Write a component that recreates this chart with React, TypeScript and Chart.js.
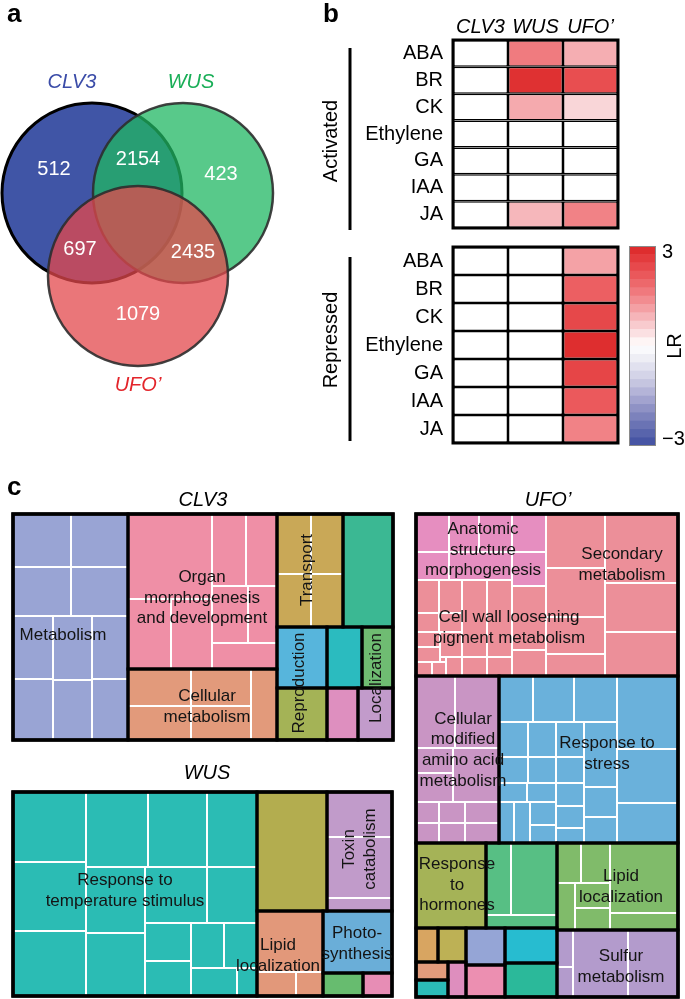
import React, { useEffect, useRef } from 'react';
import { Chart, registerables } from 'chart.js';

Chart.register(...registerables);

const FONT = '"Liberation Sans", Arial, Helvetica, sans-serif';

// ---------------- Panel a: Venn diagram data ----------------
const vennSets = ['CLV3', 'WUS', 'UFO\u2019'];
const vennRegions = ['CLV3 only', 'WUS only', 'UFO\u2019 only', 'CLV3 \u2229 WUS', 'CLV3 \u2229 UFO\u2019', 'WUS \u2229 UFO\u2019'];
const vennCounts = [512, 423, 1079, 2154, 697, 2435];

// ---------------- Panel b: heatmap data ----------------
const hormones = ['ABA', 'BR', 'CK', 'Ethylene', 'GA', 'IAA', 'JA'];
const genotypes = ['CLV3', 'WUS', 'UFO\u2019'];
const activatedCLV3 = [0, 0, 0, 0, 0, 0, 0];
const activatedWUS = [1.6, 2.8, 1.0, 0, 0, 0, 0.85];
const activatedUFO = [0.95, 2.3, 0.5, 0, 0, 0, 1.5];
const repressedCLV3 = [0, 0, 0, 0, 0, 0, 0];
const repressedWUS = [0, 0, 0, 0, 0, 0, 0];
const repressedUFO = [1.1, 2.0, 2.4, 2.85, 2.45, 2.1, 1.5];
const lrTickLabels = ['3', '\u22123'];
const lrLevels = [-3, -2.75, -2.5, -2.25, -2, -1.75, -1.5, -1.25, -1, -0.75, -0.5, -0.25,
  0, 0.25, 0.5, 0.75, 1, 1.25, 1.5, 1.75, 2, 2.25, 2.5, 2.75];

// ---------------- Panel c: treemap terms ----------------
const clv3Terms = ['Metabolism', 'Organ morphogenesis and development', 'Cellular metabolism', 'Transport', 'Reproduction', 'Localization'];
const wusTerms = ['Response to temperature stimulus', 'Lipid localization', 'Photo-synthesis', 'Toxin catabolism'];
const ufoTerms = ['Anatomic structure morphogenesis', 'Secondary metabolism', 'Cell wall loosening pigment metabolism',
  'Cellular modified amino acid metabolism', 'Response to stress', 'Response to hormones', 'Lipid localization', 'Sulfur metabolism'];

// ================= layout & style (not data) =================
const vennCenters = [{ x: 92, y: 193 }, { x: 183, y: 193 }, { x: 138, y: 276 }];
const vennRadius = 90;
const vennFill = ['rgba(0,28,136,0.75)', 'rgba(32,183,99,0.75)', 'rgba(227,72,76,0.75)'];
const vennStroke = ['rgba(0,0,0,1)', 'rgba(45,45,45,0.9)', 'rgba(45,45,45,0.9)'];
const vennSetColors = ['#3B4CA8', '#19AE57', '#E3252B'];
const vennCountPos = [[54, 169], [221, 174], [138, 314], [138, 159], [80, 249], [193, 252]];
const vennNamePos = [[72, 82], [191, 82], [138, 385]];

const redStops: [number, number[]][] = [[0, [255, 255, 255]], [0.5, [249, 214, 216]], [1, [245, 170, 174]], [1.5, [241, 130, 134]], [2, [236, 95, 98]], [2.5, [229, 66, 68]], [3, [219, 38, 38]]];
const blueStops: [number, number[]][] = [[0, [255, 255, 255]], [0.5, [232, 232, 242]], [1, [205, 205, 228]], [1.5, [172, 172, 212]], [2, [133, 137, 192]], [2.5, [97, 107, 176]], [3, [62, 78, 160]]];

function lrColor(v: number): string {
  const stops = v >= 0 ? redStops : blueStops;
  const a = Math.min(3, Math.abs(v));
  for (let i = 1; i < stops.length; i++) {
    if (a <= stops[i][0]) {
      const [a0, c0] = stops[i - 1];
      const [a1, c1] = stops[i];
      const t = (a - a0) / (a1 - a0);
      const c = c0.map((x, k) => Math.round(x + (c1[k] - x) * t));
      return `rgb(${c[0]},${c[1]},${c[2]})`;
    }
  }
  const c = stops[stops.length - 1][1];
  return `rgb(${c[0]},${c[1]},${c[2]})`;
}

const palette: Record<string, string> = {
  metab: '#99A4D4', organ: '#EF8FA6', cellmet: '#E29A7B', transport: '#C9A857', teal1: '#3BB893',
  repro: '#57B5DC', teal2: '#2BBBBF', locGreen: '#6FBC72', olive: '#A4B356', pink: '#DE8FBF', lav: '#C29BCB',
  wTeal: '#2BBCB4', wOlive: '#B3AD4F', wLav: '#C19BCA', wSalmon: '#E2987A', wBlue: '#6AAED8', wGreen: '#67BC6F', wPink: '#E78DB5',
  uAnat: '#E68EC0', uSalmon: '#EC8F99', uCell: '#C995C4', uStress: '#6AB1DB', uHorm: '#A5B357', uGreen: '#57BF84',
  uLipid: '#80BB6A', uSulfur: '#B39BCC', uOrange: '#D8A561', uOlive: '#BDB155', uLavBlue: '#95A5D6', uCyan: '#27BCD0',
  uSalmon2: '#E29B7C', uTeal: '#2BBCB8', uPink: '#DE8EBE', uPink2: '#EC8FB1', uTeal2: '#2BB99A',
};

type R = [number, number, number, number, string];
const tag = (key: string, rs: number[][]): R[] => rs.map((r) => [r[0], r[1], r[2], r[3], key] as R);

const clv3Map = {
  title: 'CLV3', titleAt: [203, 500],
  blocks: [
    [13, 514, 128, 740, 'metab'], [128, 514, 277, 669, 'organ'], [128, 669, 277, 740, 'cellmet'],
    [277, 514, 343, 627, 'transport'], [343, 514, 393, 627, 'teal1'], [277, 627, 327, 688, 'repro'],
    [327, 627, 362, 688, 'teal2'], [362, 627, 393, 688, 'locGreen'], [277, 688, 327, 740, 'olive'],
    [327, 688, 358, 740, 'pink'], [358, 688, 393, 740, 'lav'],
  ] as R[],
  cells: [
    ...tag('metab', [[13, 514, 71, 567], [71, 514, 128, 567], [13, 567, 71, 616], [71, 567, 128, 616], [13, 616, 53, 679], [53, 616, 92, 680], [92, 616, 128, 679], [13, 679, 53, 740], [53, 680, 92, 740], [92, 679, 128, 740]]),
    ...tag('organ', [[128, 514, 212, 599], [128, 599, 171, 669], [171, 599, 212, 669], [212, 514, 246, 586], [246, 514, 277, 586], [212, 586, 248, 643], [248, 586, 277, 643], [212, 643, 277, 669]]),
    ...tag('cellmet', [[128, 669, 191, 706], [191, 669, 251, 706], [128, 706, 191, 740], [191, 706, 251, 740], [251, 669, 277, 740]]),
    ...tag('transport', [[277, 514, 311, 574], [311, 514, 343, 574], [277, 574, 311, 627], [311, 574, 343, 627]]),
  ],
  labels: [
    { lines: ['Metabolism'], at: [63, 635] },
    { lines: ['Organ', 'morphogenesis', 'and development'], at: [202, 598] },
    { lines: ['Cellular', 'metabolism'], at: [207, 707] },
    { lines: ['Transport'], at: [307, 570], rot: true },
    { lines: ['Reproduction'], at: [299, 683], rot: true },
    { lines: ['Localization'], at: [376, 678], rot: true },
  ],
};

const wusMap = {
  title: 'WUS', titleAt: [207, 773],
  blocks: [
    [13, 792, 257, 996, 'wTeal'], [257, 792, 327, 911, 'wOlive'], [327, 792, 392, 911, 'wLav'],
    [257, 911, 323, 996, 'wSalmon'], [323, 911, 392, 973, 'wBlue'], [323, 973, 363, 996, 'wGreen'], [363, 973, 392, 996, 'wPink'],
  ] as R[],
  cells: [
    ...tag('wTeal', [[13, 792, 86, 862], [13, 862, 86, 931], [13, 931, 86, 996], [86, 792, 148, 867], [148, 792, 207, 867], [207, 792, 257, 867], [86, 867, 145, 933], [86, 933, 145, 996], [145, 867, 207, 923], [207, 867, 257, 923], [145, 923, 191, 961], [145, 961, 191, 996], [191, 923, 224, 968], [224, 923, 257, 968], [191, 968, 237, 996], [237, 968, 257, 996]]),
    ...tag('wLav', [[327, 792, 392, 837], [327, 837, 392, 898], [327, 898, 392, 911]]),
    ...tag('wSalmon', [[257, 911, 323, 972], [257, 972, 296, 996], [296, 972, 323, 996]]),
  ],
  labels: [
    { lines: ['Response to', 'temperature stimulus'], at: [125, 891] },
    { lines: ['Lipid', 'localization'], at: [278, 956] },
    { lines: ['Photo-', 'synthesis'], at: [357, 944] },
    { lines: ['Toxin', 'catabolism'], at: [360, 849], rot: true },
  ],
};

const ufoMap = {
  title: 'UFO\u2019', titleAt: [548, 500],
  blocks: [
    [416, 514, 678, 676, 'uSalmon'], [416, 676, 499, 843, 'uCell'], [499, 676, 678, 843, 'uStress'],
    [416, 843, 486, 928, 'uHorm'], [486, 843, 557, 928, 'uGreen'], [557, 843, 678, 930, 'uLipid'], [557, 930, 678, 997, 'uSulfur'],
    [416, 928, 438, 962, 'uOrange'], [438, 928, 466, 962, 'uOlive'], [466, 928, 505, 965, 'uLavBlue'], [505, 928, 557, 963, 'uCyan'],
    [416, 962, 448, 980, 'uSalmon2'], [416, 980, 448, 997, 'uTeal'], [448, 962, 466, 997, 'uPink'], [466, 965, 505, 997, 'uPink2'], [505, 963, 557, 997, 'uTeal2'],
  ] as R[],
  cells: [
    ...tag('uAnat', [[416, 514, 449, 552], [449, 514, 479, 552], [479, 514, 512, 552], [512, 514, 546, 552], [416, 552, 449, 580], [449, 552, 512, 580], [512, 552, 546, 586]]),
    ...tag('uSalmon', [[416, 580, 439, 613], [439, 580, 462, 613], [416, 613, 439, 632], [439, 613, 462, 632], [416, 632, 440, 647], [440, 632, 462, 657], [416, 647, 440, 662], [416, 662, 432, 676], [432, 662, 446, 676], [446, 657, 462, 676],
      [462, 580, 487, 657], [487, 580, 512, 657], [462, 657, 487, 676], [487, 657, 512, 676], [512, 586, 546, 650], [512, 650, 546, 676],
      [546, 514, 605, 568], [546, 568, 605, 617], [546, 617, 605, 654], [546, 654, 605, 676], [605, 514, 678, 583], [605, 583, 678, 632], [605, 632, 678, 676]]),
    ...tag('uCell', [[416, 676, 455, 748], [455, 676, 499, 748], [416, 748, 453, 773], [416, 773, 453, 802], [453, 748, 499, 802], [416, 802, 439, 823], [439, 802, 465, 823], [465, 802, 499, 823], [416, 823, 439, 843], [439, 823, 465, 843], [465, 823, 499, 843]]),
    ...tag('uStress', [[499, 676, 533, 722], [533, 676, 574, 722], [574, 676, 617, 722], [617, 676, 678, 749], [617, 749, 678, 803], [617, 803, 678, 843],
      [499, 722, 528, 757], [528, 722, 556, 757], [556, 722, 584, 757], [584, 722, 617, 787], [499, 757, 528, 783], [528, 757, 556, 783], [556, 757, 584, 783],
      [499, 783, 527, 802], [527, 783, 556, 802], [556, 783, 584, 806], [584, 787, 617, 817], [499, 802, 514, 843], [514, 802, 530, 843], [530, 802, 556, 825],
      [530, 825, 556, 843], [556, 806, 584, 828], [556, 828, 584, 843], [584, 817, 617, 843]]),
    ...tag('uGreen', [[486, 843, 511, 915], [511, 843, 557, 915], [486, 915, 557, 928]]),
    ...tag('uLipid', [[557, 843, 581, 883], [581, 843, 610, 883], [557, 883, 575, 930], [575, 883, 610, 908], [575, 908, 610, 930], [610, 843, 678, 913], [610, 913, 678, 930]]),
    ...tag('uSulfur', [[557, 930, 573, 967], [557, 967, 573, 997], [573, 930, 628, 997], [628, 930, 678, 997]]),
  ],
  labels: [
    { lines: ['Anatomic', 'structure', 'morphogenesis'], at: [483, 550] },
    { lines: ['Secondary', 'metabolism'], at: [622, 565] },
    { lines: ['Cell wall loosening', 'pigment metabolism'], at: [509, 628] },
    { lines: ['Cellular', 'modified', 'amino acid', 'metabolism'], at: [463, 750] },
    { lines: ['Response to', 'stress'], at: [607, 754] },
    { lines: ['Response', 'to', 'hormones'], at: [457, 885] },
    { lines: ['Lipid', 'localization'], at: [621, 887] },
    { lines: ['Sulfur', 'metabolism'], at: [621, 967] },
  ],
};

const treemaps = [clv3Map, wusMap, ufoMap];

// ================= chart helpers =================
const baseOptions = {
  responsive: false,
  maintainAspectRatio: false,
  animation: false,
  events: [],
  plugins: { legend: { display: false }, tooltip: { enabled: false } },
};

function drawLines(ctx: CanvasRenderingContext2D, lines: string[], x: number, y: number, lh: number, rot?: boolean) {
  ctx.save();
  ctx.translate(x, y);
  if (rot) ctx.rotate(-Math.PI / 2);
  const n = lines.length;
  lines.forEach((t, i) => ctx.fillText(t, 0, (i - (n - 1) / 2) * lh));
  ctx.restore();
}

function ChartBox({ left, top, width, height, make }: { left: number; top: number; width: number; height: number; make: () => any }) {
  const ref = useRef<HTMLCanvasElement>(null);
  useEffect(() => {
    const chart = new Chart(ref.current as HTMLCanvasElement, make());
    return () => chart.destroy();
  }, []);
  return <canvas ref={ref} width={width} height={height} style={{ position: 'absolute', left, top, width, height }} />;
}

// ---------- Venn ----------
const vennPlugin = {
  id: 'vennText',
  afterDatasetsDraw(chart: any) {
    const { ctx, scales: { x, y } } = chart;
    ctx.save();
    ctx.textAlign = 'center';
    ctx.textBaseline = 'middle';
    ctx.font = `20px ${FONT}`;
    ctx.fillStyle = '#fff';
    vennCounts.forEach((n, i) => ctx.fillText(String(n), x.getPixelForValue(vennCountPos[i][0]), y.getPixelForValue(vennCountPos[i][1])));
    ctx.font = `italic 20px ${FONT}`;
    vennSets.forEach((s, i) => {
      ctx.fillStyle = vennSetColors[i];
      ctx.fillText(s, x.getPixelForValue(vennNamePos[i][0]), y.getPixelForValue(vennNamePos[i][1]));
    });
    ctx.font = `bold 26px ${FONT}`;
    ctx.fillStyle = '#000';
    ctx.textAlign = 'left';
    ctx.textBaseline = 'alphabetic';
    ctx.fillText('a', x.getPixelForValue(7), y.getPixelForValue(22));
    ctx.restore();
  },
};

function vennConfig() {
  return {
    type: 'scatter',
    data: {
      datasets: [{
        label: vennRegions.join(', '),
        data: vennCenters.map((c) => ({ x: c.x, y: c.y })),
        showLine: false,
        pointStyle: 'circle',
        pointBackgroundColor: vennFill,
        pointBorderColor: vennStroke,
        pointBorderWidth: [3, 2.5, 2.5],
        pointRadius: (c: any) => {
          const s = c.chart.scales.x;
          const r = Math.abs(s.getPixelForValue(vennRadius) - s.getPixelForValue(0));
          return isFinite(r) && r > 0 ? r : vennRadius;
        },
        clip: false,
      }],
    },
    options: {
      ...baseOptions,
      layout: { padding: 0, autoPadding: false },
      scales: {
        x: { type: 'linear', min: 0, max: 350, display: false },
        y: { type: 'linear', min: 0, max: 400, reverse: true, display: false },
      },
    },
    plugins: [vennPlugin],
  };
}

// ---------- Heatmaps ----------
function heatDecor(label: string, lineTop: number, lineBottom: number, labelY: number, letter: boolean) {
  return {
    id: 'heatDecor',
    afterDraw(chart: any) {
      const { ctx, chartArea: a } = chart;
      ctx.save();
      ctx.strokeStyle = '#000';
      ctx.lineWidth = 3;
      ctx.strokeRect(a.left, a.top, a.right - a.left, a.bottom - a.top);
      const bx = a.left - 103;
      ctx.beginPath();
      ctx.moveTo(bx, lineTop);
      ctx.lineTo(bx, lineBottom);
      ctx.stroke();
      ctx.fillStyle = '#000';
      ctx.font = `20px ${FONT}`;
      ctx.textAlign = 'center';
      ctx.textBaseline = 'middle';
      drawLines(ctx, [label], a.left - 122, labelY, 20, true);
      if (letter) {
        ctx.font = `bold 26px ${FONT}`;
        ctx.textAlign = 'left';
        ctx.textBaseline = 'alphabetic';
        ctx.fillText('b', 13, 22);
      }
      ctx.restore();
    },
  };
}

function heatConfig(cols: number[][], showHeader: boolean, padTop: number, decor: any) {
  return {
    type: 'bar',
    data: {
      labels: genotypes,
      datasets: hormones.map((h, i) => ({
        label: h,
        data: genotypes.map(() => 1),
        backgroundColor: cols.map((col) => lrColor(col[i])),
        borderColor: '#000',
        borderWidth: 1.5,
        borderSkipped: false,
        barPercentage: 1,
        categoryPercentage: 1,
        inflateAmount: 0,
      })),
    },
    options: {
      ...baseOptions,
      layout: { padding: { left: 0, right: 12, top: padTop, bottom: 12 } },
      scales: {
        x: {
          stacked: true, position: 'top', display: showHeader,
          grid: { display: false, drawTicks: false }, border: { display: false },
          ticks: { color: '#000', font: { family: FONT, size: 20, style: 'italic' }, padding: 1, maxRotation: 0, autoSkip: false },
          afterFit: (s: any) => { if (showHeader) s.height = 40; s.paddingLeft = 0; s.paddingRight = 0; },
        },
        y: {
          type: 'linear', stacked: true, min: 0, max: 7, reverse: true,
          grid: { display: false, drawTicks: false }, border: { display: false },
          afterBuildTicks: (s: any) => { s.ticks = hormones.map((_, i) => ({ value: i + 0.5 })); },
          ticks: { color: '#000', font: { family: FONT, size: 20 }, padding: 10, autoSkip: false, callback: (v: number) => hormones[Math.floor(v)] },
          afterFit: (s: any) => { s.width = 143; s.paddingTop = 0; s.paddingBottom = 0; },
        },
      },
    },
    plugins: [decor],
  };
}

// ---------- Colour bar ----------
const colorbarDecor = {
  id: 'cbDecor',
  afterDraw(chart: any) {
    const { ctx, chartArea: a } = chart;
    ctx.save();
    ctx.strokeStyle = '#8a8a8a';
    ctx.lineWidth = 1;
    ctx.strokeRect(a.left + 0.5, a.top + 0.5, a.right - a.left - 1, a.bottom - a.top - 1);
    ctx.fillStyle = '#000';
    ctx.font = `20px ${FONT}`;
    ctx.textAlign = 'center';
    ctx.textBaseline = 'middle';
    drawLines(ctx, ['LR'], a.right + 19, (a.top + a.bottom) / 2, 20, true);
    ctx.restore();
  },
};

function colorbarConfig() {
  return {
    type: 'bar',
    data: {
      labels: ['LR'],
      datasets: lrLevels.map((l) => ({
        label: String(l),
        data: [[l, l + 0.25]],
        backgroundColor: lrColor(l + 0.125),
        borderWidth: 0,
        grouped: false,
        barPercentage: 1,
        categoryPercentage: 1,
        inflateAmount: 0.3,
      })),
    },
    options: {
      ...baseOptions,
      layout: { padding: { left: 9, right: 0, top: 16, bottom: 9 } },
      scales: {
        x: { display: false },
        y: {
          type: 'linear', position: 'right', min: -3, max: 3,
          grid: { display: false, drawTicks: false }, border: { display: false },
          afterBuildTicks: (s: any) => { s.ticks = [{ value: 2.8 }, { value: -2.8 }]; },
          ticks: { color: '#000', font: { family: FONT, size: 20 }, padding: 6, autoSkip: false, callback: (v: number) => (v > 0 ? lrTickLabels[0] : lrTickLabels[1]) },
          afterFit: (s: any) => { s.width = 29; s.paddingTop = 0; s.paddingBottom = 0; },
        },
      },
    },
    plugins: [colorbarDecor],
  };
}

// ---------- Treemaps ----------
const treemapPlugin = {
  id: 'treemaps',
  afterDatasetsDraw(chart: any) {
    const { ctx, scales: { x, y } } = chart;
    const X = (v: number) => x.getPixelForValue(v);
    const Y = (v: number) => y.getPixelForValue(v);
    const box = (r: R): [number, number, number, number] => [X(r[0]), Y(r[1]), X(r[2]) - X(r[0]), Y(r[3]) - Y(r[1])];
    ctx.save();
    for (const tm of treemaps) {
      for (const b of tm.blocks) { ctx.fillStyle = palette[b[4]]; ctx.fillRect(...box(b)); }
      for (const c of tm.cells) { ctx.fillStyle = palette[c[4]]; ctx.fillRect(...box(c)); }
      ctx.strokeStyle = '#fff';
      ctx.lineWidth = 2;
      for (const c of tm.cells) ctx.strokeRect(...box(c));
      ctx.strokeStyle = '#000';
      ctx.lineWidth = 3;
      for (const b of tm.blocks) ctx.strokeRect(...box(b));
      const x0 = Math.min(...tm.blocks.map((b) => b[0]));
      const y0 = Math.min(...tm.blocks.map((b) => b[1]));
      const x1 = Math.max(...tm.blocks.map((b) => b[2]));
      const y1 = Math.max(...tm.blocks.map((b) => b[3]));
      ctx.lineWidth = 3.5;
      ctx.strokeRect(X(x0), Y(y0), X(x1) - X(x0), Y(y1) - Y(y0));
      ctx.fillStyle = '#141414';
      ctx.font = `17px ${FONT}`;
      ctx.textAlign = 'center';
      ctx.textBaseline = 'middle';
      for (const l of tm.labels) drawLines(ctx, l.lines, X(l.at[0]), Y(l.at[1]), 20.7, (l as any).rot);
      ctx.fillStyle = '#000';
      ctx.font = `italic 20px ${FONT}`;
      ctx.fillText(tm.title, X(tm.titleAt[0]), Y(tm.titleAt[1]));
    }
    ctx.font = `bold 26px ${FONT}`;
    ctx.textAlign = 'left';
    ctx.textBaseline = 'alphabetic';
    ctx.fillText('c', X(7), Y(495));
    ctx.restore();
  },
};

function treemapConfig() {
  return {
    type: 'scatter',
    data: { datasets: [{ label: [...clv3Terms, ...wusTerms, ...ufoTerms].join('; '), data: [], pointRadius: 0 }] },
    options: {
      ...baseOptions,
      layout: { padding: 0, autoPadding: false },
      scales: {
        x: { type: 'linear', min: 0, max: 685, display: false },
        y: { type: 'linear', min: 480, max: 999, reverse: true, display: false },
      },
    },
    plugins: [treemapPlugin],
  };
}

export default function App() {
  return (
    <div style={{ position: 'absolute', left: 0, top: 0, width: 685, height: 999, background: '#fff', overflow: 'hidden' }}>
      <ChartBox left={0} top={0} width={350} height={400} make={vennConfig} />
      <ChartBox left={310} top={0} width={320} height={240}
        make={() => heatConfig([activatedCLV3, activatedWUS, activatedUFO], true, 0, heatDecor('Activated', 48, 230, 141, true))} />
      <ChartBox left={310} top={240} width={320} height={215}
        make={() => heatConfig([repressedCLV3, repressedWUS, repressedUFO], false, 7, heatDecor('Repressed', 17, 201, 100, false))} />
      <ChartBox left={620} top={230} width={65} height={225} make={colorbarConfig} />
      <ChartBox left={0} top={480} width={685} height={519} make={treemapConfig} />
    </div>
  );
}
